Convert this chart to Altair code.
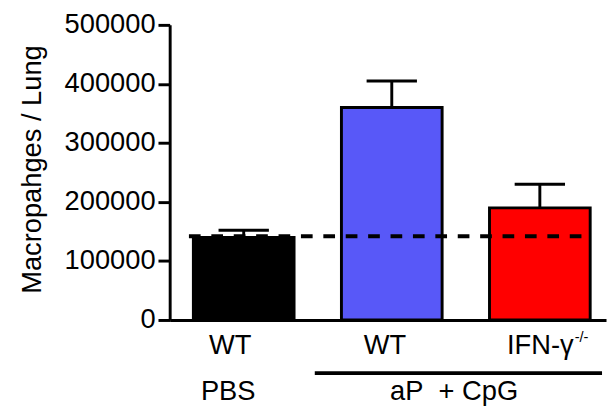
import altair as alt
import pandas as pd

# ---- data ----
genotypes = ["WT", "WT", "IFN-γ"]
treatments = ["PBS", "aP\u00a0\u00a0+ CpG"]
means = [140000, 360000, 190000]
upper = [152000, 405000, 230000]
colors = ["#000000", "#5858f8", "#ff0000"]
baseline_value = 142000
y_ticks = [0, 100000, 200000, 300000, 400000, 500000]

pos = list(range(len(means)))
FONT = "Liberation Sans"
FS = 28

bars_df = pd.DataFrame({
    "pos": pos,
    "x0": [p - 0.34 for p in pos],
    "x1": [p + 0.34 for p in pos],
    "cx0": [p - 0.17 for p in pos],
    "cx1": [p + 0.17 for p in pos],
    "mean": means,
    "upper": upper,
    "color": colors,
    "zero": [0] * len(pos),
})

xs = alt.Scale(domain=[-0.5, 2.447], nice=False, zero=False)
ys = alt.Scale(domain=[0, 500000], nice=False, zero=True)

base = alt.Chart(bars_df)

stems = base.mark_rule(color="black", strokeWidth=3).encode(
    x=alt.X("pos:Q", scale=xs,
            axis=alt.Axis(labels=False, ticks=False, grid=False, title=None,
                          domain=True, domainWidth=3, domainColor="black")),
    y=alt.Y("mean:Q", scale=ys,
            axis=alt.Axis(values=y_ticks, format="d", grid=False,
                          title="Macropahges / Lung",
                          titleFont=FONT, titleFontSize=FS, titleFontWeight="normal",
                          titleColor="black", titleX=-133, titleY=148,
                          titleAngle=270, titleAlign="center", titleBaseline="alphabetic",
                          labelFont=FONT, labelFontSize=FS, labelColor="black",
                          labelPadding=3, tickSize=12, tickWidth=3, tickColor="black",
                          domainWidth=3, domainColor="black")),
    y2="upper:Q",
)

caps = base.mark_rule(color="black", strokeWidth=3).encode(
    x=alt.X("cx0:Q", scale=xs), x2="cx1:Q", y=alt.Y("upper:Q", scale=ys)
)

bars = base.mark_bar(stroke="black", strokeWidth=3).encode(
    x=alt.X("x0:Q", scale=xs), x2="x1:Q",
    y=alt.Y("mean:Q", scale=ys), y2="zero:Q",
    color=alt.Color("color:N", scale=None),
)

dash_df = pd.DataFrame({"x0": [pos[0] - 0.37], "x1": [pos[-1] + 0.34], "y": [baseline_value]})
dashed = alt.Chart(dash_df).mark_rule(color="black", strokeWidth=4, strokeDash=[12, 11]).encode(
    x=alt.X("x0:Q", scale=xs), x2="x1:Q", y=alt.Y("y:Q", scale=ys)
)

label_df = pd.DataFrame({
    "text": genotypes,
    "lx": [pos[0] - 0.092, pos[1] - 0.046, pos[2] + 0.003],
})
glabels = alt.Chart(label_df).mark_text(font=FONT, fontSize=FS, color="black",
                                         align="center", baseline="alphabetic").encode(
    x=alt.X("lx:Q", scale=xs), y=alt.value(338), text="text:N"
)

sup_df = pd.DataFrame({"text": ["-/-"], "lx": [pos[2] + 0.235]})
sup = alt.Chart(sup_df).mark_text(font=FONT, fontSize=15, color="black",
                                   align="left", baseline="alphabetic").encode(
    x=alt.X("lx:Q", scale=xs), y=alt.value(326), text="text:N"
)

treat_df = pd.DataFrame({"text": treatments, "lx": [pos[0] - 0.105, pos[1] + 0.421]})
tlabels = alt.Chart(treat_df).mark_text(font=FONT, fontSize=FS, color="black",
                                         align="center", baseline="alphabetic").encode(
    x=alt.X("lx:Q", scale=xs), y=alt.value(385), text="text:N"
)

line_df = pd.DataFrame({"x0": [pos[1] - 0.52], "x1": [pos[2] + 0.42]})
group_line = alt.Chart(line_df).mark_rule(color="black", strokeWidth=4).encode(
    x=alt.X("x0:Q", scale=xs), x2="x1:Q", y=alt.value(357.5)
)

chart = alt.layer(stems, caps, bars, dashed, glabels, sup, tlabels, group_line).properties(
    width=448, height=303,
    autosize=alt.AutoSizeParams(type="none"),
    padding={"left": 166, "top": 12, "right": 1, "bottom": 84},
).configure_view(stroke=None)

chart.save("out.html", embed_options={"renderer": "svg", "actions": False})
